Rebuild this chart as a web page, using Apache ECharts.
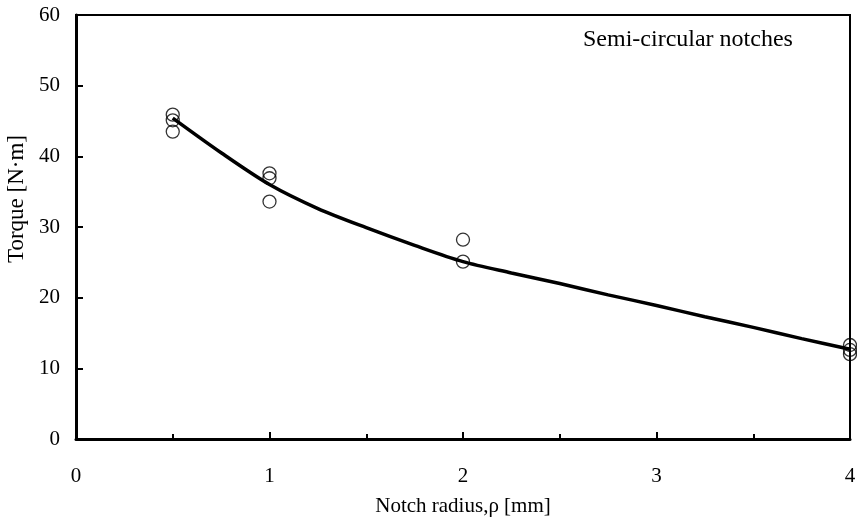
<!DOCTYPE html>
<html>
<head>
<meta charset="utf-8">
<script src="https://cdn.jsdelivr.net/npm/echarts@6/dist/echarts.min.js"></script>
<style>
  html, body { margin: 0; padding: 0; background: #fff; }
  #chart { width: 857px; height: 528px; }
</style>
</head>
<body>
<div id="chart"></div>
<script>
// measured torque at each notch radius
var radius = [0.5, 0.5, 0.5, 1, 1, 1, 2, 2, 4, 4, 4]
var torque = [45.9, 45.1, 43.5, 37.6, 36.9, 33.6, 28.2, 25.1, 13.3, 12.6, 12.0]
// fitted curve (every 0.25 mm)
var curveX = [0.5, 0.75, 1, 1.25, 1.5, 1.75, 2, 2.25, 2.5, 2.75, 3, 3.25, 3.5, 3.75, 4]
var curveY = [45.4, 40.5, 36.0, 32.6, 29.9, 27.4, 25.1, 23.5, 22.0, 20.4, 18.9, 17.3, 15.8, 14.2, 12.7]
var xTicks = [0, 1, 2, 3, 4]
var yTicks = [0, 10, 20, 30, 40, 50, 60]

var serif = 'Liberation Serif'
var chart = echarts.init(document.getElementById('chart'))
var option = {
  animation: false,
  title: {
    text: 'Semi-circular notches',
    left: 578,
    top: 23,
    textStyle: { fontFamily: serif, fontSize: 24, fontWeight: 'normal', color: '#000' }
  },
  grid: {
    left: 76, right: 7, top: 15, bottom: 89,
    outerBoundsMode: 'none',
    show: true, borderColor: '#000', borderWidth: 2, backgroundColor: 'transparent'
  },
  xAxis: {
    type: 'value',
    min: xTicks[0],
    max: xTicks[xTicks.length - 1],
    interval: 1,
    name: 'Notch radius,ρ [mm]',
    nameLocation: 'middle',
    nameGap: 57,
    nameTextStyle: { fontFamily: serif, fontSize: 21, color: '#000' },
    axisLine: { lineStyle: { color: '#000', width: 3 } },
    axisTick: { inside: true, length: 7, lineStyle: { color: '#000', width: 2 } },
    minorTick: { show: true, splitNumber: 2, length: 5, lineStyle: { color: '#000', width: 2 } },
    axisLabel: { fontFamily: serif, fontSize: 21, color: '#000', margin: 27 },
    splitLine: { show: false }
  },
  yAxis: {
    type: 'value',
    min: yTicks[0],
    max: yTicks[yTicks.length - 1],
    interval: 10,
    name: 'Torque [N·m]',
    nameLocation: 'middle',
    nameGap: 45,
    nameTextStyle: { fontFamily: serif, fontSize: 23, color: '#000', padding: [0, 0, 0, 56] },
    axisLine: { lineStyle: { color: '#000', width: 3 } },
    axisTick: { inside: true, length: 7, lineStyle: { color: '#000', width: 2 } },
    axisLabel: { fontFamily: serif, fontSize: 21, color: '#000', margin: 16 },
    splitLine: { show: false }
  },
  series: [
    {
      type: 'line',
      data: curveX.map(function (x, i) { return [x, curveY[i]] }),
      smooth: 0.3,
      showSymbol: false,
      lineStyle: { color: '#000', width: 3.5 },
      z: 2
    },
    {
      type: 'scatter',
      data: radius.map(function (x, i) { return [x, torque[i]] }),
      symbol: 'circle',
      symbolSize: 13,
      itemStyle: { color: 'rgba(0,0,0,0)', borderColor: '#000', borderWidth: 1.3 },
      z: 3
    }
  ]
}
chart.setOption(option)
</script>
</body>
</html>
